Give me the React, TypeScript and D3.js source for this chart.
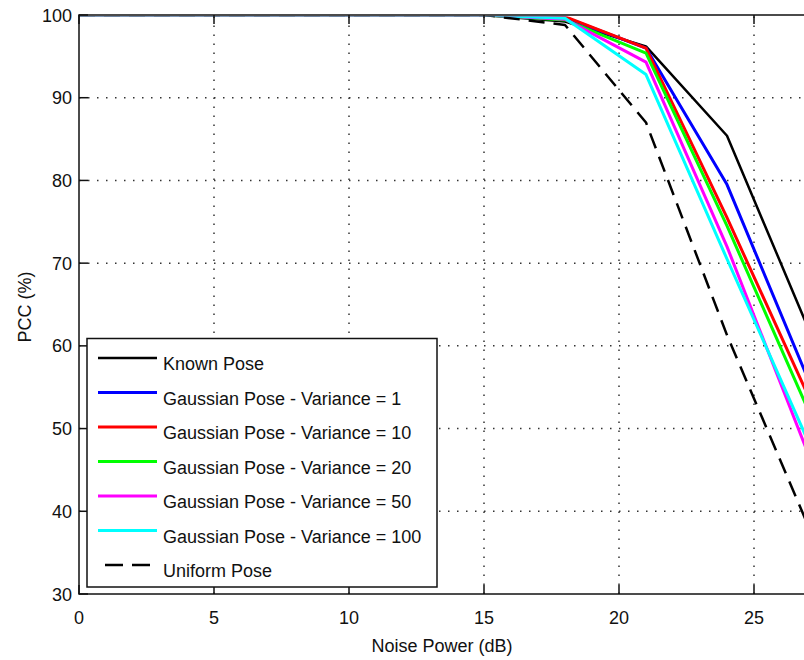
import React, { useEffect, useRef } from 'react';
import * as d3 from 'd3';

// noise power in dB (points beyond 27 dB fall outside the visible frame)
const noise = [0, 3, 6, 9, 12, 15, 18, 21, 24, 27];

const knownPose = [100, 100, 100, 100, 100, 100, 99.2, 96.2, 85.4, 62.2];
const gaussVar1 = [100, 100, 100, 100, 100, 100, 99.7, 96.0, 79.5, 56.0];
const gaussVar10 = [100, 100, 100, 100, 100, 100, 99.8, 96.0, 75.5, 54.0];
const gaussVar20 = [100, 100, 100, 100, 100, 100, 99.4, 95.4, 74.5, 52.3];
const gaussVar50 = [100, 100, 100, 100, 100, 100, 99.5, 94.3, 72.0, 47.0];
const gaussVar100 = [100, 100, 100, 100, 100, 100, 99.6, 92.8, 70.5, 48.5];
const uniformPose = [100, 100, 100, 100, 100, 100, 98.8, 87.0, 61.3, 38.3];

const xTicks = [0, 5, 10, 15, 20, 25, 30];
const xTickLabels = [0, 5, 10, 15, 20, 25];
const yTicks = [30, 40, 50, 60, 70, 80, 90, 100];

const series = [
  { name: 'Known Pose', values: knownPose, color: '#000000', width: 2.5, dash: null },
  { name: 'Gaussian Pose - Variance = 1', values: gaussVar1, color: '#0000ff', width: 3, dash: null },
  { name: 'Gaussian Pose - Variance = 10', values: gaussVar10, color: '#ff0000', width: 3, dash: null },
  { name: 'Gaussian Pose - Variance = 20', values: gaussVar20, color: '#00ff00', width: 3, dash: null },
  { name: 'Gaussian Pose - Variance = 50', values: gaussVar50, color: '#ff00ff', width: 3, dash: null },
  { name: 'Gaussian Pose - Variance = 100', values: gaussVar100, color: '#00ffff', width: 3, dash: null },
  { name: 'Uniform Pose', values: uniformPose, color: '#000000', width: 2.5, dash: '16,9' },
];

const App = () => {
  const svgRef = useRef<SVGSVGElement>(null);

  useEffect(() => {
    const svg = d3.select(svgRef.current);
    svg.selectAll('*').remove();

    const width = 804, height = 660;
    const left = 79, top = 15, bottom = 594;
    const font = '"Liberation Sans", Arial, sans-serif';

    const x = d3.scaleLinear().domain([0, 30]).range([left, left + 810]);
    const y = d3.scaleLinear().domain([30, 100]).range([bottom, top]);
    const right = x(30);

    svg.attr('width', width).attr('height', height);
    svg.append('rect').attr('width', width).attr('height', height).attr('fill', '#fff');

    svg.append('clipPath').attr('id', 'plotClip')
      .append('rect').attr('x', left).attr('y', top + 1.6).attr('width', right - left).attr('height', bottom - top - 1.6);

    // dotted grid
    const grid = svg.append('g').attr('stroke', '#333').attr('stroke-width', 1.5).attr('stroke-dasharray', '1.5,7.5');
    xTicks.slice(1).forEach(t => {
      grid.append('line').attr('x1', x(t)).attr('x2', x(t)).attr('y1', bottom).attr('y2', top);
    });
    yTicks.slice(1, -1).forEach(t => {
      grid.append('line').attr('x1', left).attr('x2', right).attr('y1', y(t)).attr('y2', y(t));
    });

    // curves
    const line = d3.line<number>().x((d, i) => x(noise[i])).y(d => y(d));
    const curves = svg.append('g').attr('clip-path', 'url(#plotClip)');
    series.forEach(s => {
      curves.append('path').datum(s.values)
        .attr('d', line)
        .attr('fill', 'none')
        .attr('stroke', s.color)
        .attr('stroke-width', s.width)
        .attr('stroke-dasharray', s.dash)
        .attr('stroke-linejoin', 'round');
    });

    // frame and inner ticks
    const frame = svg.append('g').attr('stroke', '#111').attr('stroke-width', 1.5).attr('fill', 'none');
    frame.append('rect').attr('x', left).attr('y', top).attr('width', right - left).attr('height', bottom - top);
    const tl = 9;
    xTicks.forEach(t => {
      frame.append('line').attr('x1', x(t)).attr('x2', x(t)).attr('y1', bottom).attr('y2', bottom - tl);
      frame.append('line').attr('x1', x(t)).attr('x2', x(t)).attr('y1', top).attr('y2', top + tl);
    });
    yTicks.forEach(t => {
      frame.append('line').attr('x1', left).attr('x2', left + tl).attr('y1', y(t)).attr('y2', y(t));
    });

    // tick labels
    svg.append('g').selectAll('text').data(xTickLabels).enter().append('text')
      .attr('x', d => x(d)).attr('y', bottom + 30)
      .attr('text-anchor', 'middle').attr('font-family', font).attr('font-size', 18).attr('fill', '#111')
      .text(d => d);
    svg.append('g').selectAll('text').data(yTicks).enter().append('text')
      .attr('x', left - 7).attr('y', d => y(d) + 6.5)
      .attr('text-anchor', 'end').attr('font-family', font).attr('font-size', 18).attr('fill', '#111')
      .text(d => d);

    svg.append('text').attr('x', 442).attr('y', 652)
      .attr('text-anchor', 'middle').attr('font-family', font).attr('font-size', 18).attr('fill', '#111')
      .text('Noise Power (dB)');
    svg.append('text').attr('transform', 'translate(31,307) rotate(-90)')
      .attr('text-anchor', 'middle').attr('font-family', font).attr('font-size', 18).attr('fill', '#111')
      .text('PCC (%)');

    // legend
    const lg = svg.append('g');
    lg.append('rect').attr('x', 87).attr('y', 338.5).attr('width', 350).attr('height', 248.5)
      .attr('fill', '#fff').attr('stroke', '#111').attr('stroke-width', 1.5);
    series.forEach((s, i) => {
      const ly = 358 + i * 34.5;
      if (s.dash) {
        lg.append('line').attr('x1', 105).attr('x2', 150).attr('y1', ly).attr('y2', ly)
          .attr('stroke', s.color).attr('stroke-width', s.width).attr('stroke-dasharray', '18,9');
      } else {
        lg.append('line').attr('x1', 98).attr('x2', 157).attr('y1', ly).attr('y2', ly)
          .attr('stroke', s.color).attr('stroke-width', s.width);
      }
      lg.append('text').attr('x', 163).attr('y', ly + 12)
        .attr('font-family', font).attr('font-size', 18).attr('fill', '#111')
        .text(s.name);
    });
  }, []);

  return (
    <div style={{ position: 'fixed', left: 0, top: 0, width: 804, height: 660, overflow: 'hidden' }}>
      <svg ref={svgRef} style={{ display: 'block' }} />
    </div>
  );
};

export default App;
